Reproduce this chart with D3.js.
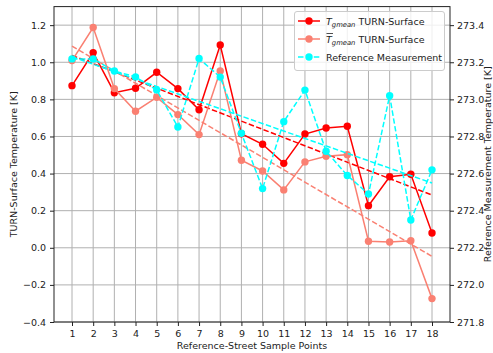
<!DOCTYPE html>
<html>
<head>
<meta charset="utf-8">
<script src="https://cdn.jsdelivr.net/npm/d3@7"></script>
<style>
  html, body { margin: 0; padding: 0; background: #fff; }
  svg { display: block; font-family: "DejaVu Sans", sans-serif; }
</style>
</head>
<body>
<div id="chart"></div>
<script>
// sample points along the reference street
var points = [1, 2, 3, 4, 5, 6, 7, 8, 9, 10, 11, 12, 13, 14, 15, 16, 17, 18];
// T_gmean TURN-Surface [K] (left axis)
var tGmean = [0.874, 1.052, 0.836, 0.860, 0.946, 0.858, 0.744, 1.093, 0.615,
              0.558, 0.455, 0.613, 0.646, 0.655, 0.227, 0.383, 0.396, 0.080];
// mean T_gmean TURN-Surface [K] (left axis)
var tGmeanBar = [1.009, 1.187, 0.858, 0.736, 0.811, 0.718, 0.610, 0.953, 0.472,
                 0.414, 0.312, 0.463, 0.493, 0.502, 0.035, 0.031, 0.038, -0.274];
// reference measurement [K] (right axis)
var refMeas = [273.218, 273.218, 273.153, 273.121, 273.051, 272.851, 273.220, 273.120, 272.817,
               272.519, 272.880, 273.050, 272.720, 272.590, 272.490, 273.020, 272.350, 272.620];
var leftTicks = [-0.4, -0.2, 0.0, 0.2, 0.4, 0.6, 0.8, 1.0, 1.2];
var rightTicks = [271.8, 272.0, 272.2, 272.4, 272.6, 272.8, 273.0, 273.2, 273.4];

var width = 493, height = 353;
var padL = 54, padR = 450, padT = 6.6, padB = 322;
var fs = 9.5;

var svg = d3.select('#chart').append('svg')
    .attr('width', width)
    .attr('height', height);

var x = d3.scaleLinear().domain([0.15, 18.85]).range([padL, padR]);
var y = d3.scaleLinear().domain([-0.4, 1.3]).range([padB, padT]);
var y2 = d3.scaleLinear().domain([271.8, 273.5]).range([padB, padT]);

// grid
svg.append('g').selectAll('line').data(points).enter().append('line')
    .attr('x1', function (d) { return x(d); }).attr('x2', function (d) { return x(d); })
    .attr('y1', padT).attr('y2', padB)
    .attr('stroke', '#b0b0b0').attr('stroke-width', 1);
svg.append('g').selectAll('line').data(leftTicks).enter().append('line')
    .attr('x1', padL).attr('x2', padR)
    .attr('y1', function (d) { return y(d); }).attr('y2', function (d) { return y(d); })
    .attr('stroke', '#b0b0b0').attr('stroke-width', 1);

// least squares trend
function fit(vals) {
    var mx = d3.mean(points), my = d3.mean(vals);
    var sxy = d3.sum(points, function (p, i) { return (p - mx) * (vals[i] - my); });
    var sxx = d3.sum(points, function (p) { return (p - mx) * (p - mx); });
    var b = sxy / sxx, a = my - b * mx;
    return [[points[0], a + b * points[0]], [points[points.length - 1], a + b * points[points.length - 1]]];
}

function drawSeries(vals, ys, color, dash) {
    var line = d3.line()
        .x(function (d, i) { return x(points[i]); })
        .y(function (d) { return ys(d); });
    svg.append('path').datum(vals)
        .attr('d', line)
        .attr('fill', 'none')
        .attr('stroke', color)
        .attr('stroke-width', 1.5)
        .attr('stroke-dasharray', dash ? '5.5,2.4' : null);
    svg.append('g').selectAll('circle').data(vals).enter().append('circle')
        .attr('cx', function (d, i) { return x(points[i]); })
        .attr('cy', function (d) { return ys(d); })
        .attr('r', 3.7)
        .attr('fill', color);
    var t = fit(vals);
    svg.append('path').datum(t)
        .attr('d', d3.line().x(function (d) { return x(d[0]); }).y(function (d) { return ys(d[1]); }))
        .attr('fill', 'none')
        .attr('stroke', color)
        .attr('stroke-width', 1.5)
        .attr('stroke-dasharray', '5.5,2.4');
}

drawSeries(tGmean, y, '#ff0000', false);
drawSeries(tGmeanBar, y, '#fa8072', false);
drawSeries(refMeas, y2, '#00ffff', true);

// frame
svg.append('rect')
    .attr('x', padL).attr('y', padT)
    .attr('width', padR - padL).attr('height', padB - padT)
    .attr('fill', 'none').attr('stroke', '#222').attr('stroke-width', 1);

// axes
var xAxis = svg.append('g').attr('transform', 'translate(0,' + padB + ')')
    .call(d3.axisBottom(x).tickValues(points).tickFormat(d3.format('d')).tickSize(4).tickPadding(4));
var yAxis = svg.append('g').attr('transform', 'translate(' + padL + ',0)')
    .call(d3.axisLeft(y).tickValues(leftTicks).tickFormat(function (d) { return d3.format('.1f')(d).replace('-', '\u2212'); }).tickSize(4).tickPadding(4));
var yAxis2 = svg.append('g').attr('transform', 'translate(' + padR + ',0)')
    .call(d3.axisRight(y2).tickValues(rightTicks).tickFormat(d3.format('.1f')).tickSize(4).tickPadding(3));
[xAxis, yAxis, yAxis2].forEach(function (g) {
    g.select('.domain').remove();
    g.selectAll('text').attr('font-size', fs).attr('fill', '#222').attr('font-family', '"DejaVu Sans", sans-serif');
    g.selectAll('line').attr('stroke', '#222');
});

// axis labels
svg.append('text')
    .attr('x', (padL + padR) / 2).attr('y', 349)
    .attr('text-anchor', 'middle').attr('font-size', fs).attr('fill', '#222')
    .text('Reference-Street Sample Points');
svg.append('text')
    .attr('transform', 'translate(17,' + ((padT + padB) / 2) + ') rotate(-90)')
    .attr('text-anchor', 'middle').attr('font-size', fs).attr('fill', '#222')
    .text('TURN-Surface Temperature [K]');
svg.append('text')
    .attr('transform', 'translate(490.5,' + ((padT + padB) / 2) + ') rotate(-90)')
    .attr('text-anchor', 'middle').attr('font-size', fs).attr('fill', '#222')
    .text('Reference Measurement Temperature [K]');

// legend
var legendItems = [
    { color: '#ff0000', dash: false, bar: false, label: ' TURN-Surface' },
    { color: '#fa8072', dash: false, bar: true, label: ' TURN-Surface' },
    { color: '#00ffff', dash: true, bar: false, label: 'Reference Measurement' }
];
var lg = svg.append('g');
lg.append('rect')
    .attr('x', 294.5).attr('y', 11.5).attr('width', 150).attr('height', 59).attr('rx', 2.5)
    .attr('fill', 'rgba(255,255,255,0.8)').attr('stroke', '#cccccc').attr('stroke-width', 1);
legendItems.forEach(function (it, i) {
    var cy = 21 + i * 18;
    lg.append('line').attr('x1', 298).attr('x2', 320).attr('y1', cy).attr('y2', cy)
        .attr('stroke', it.color).attr('stroke-width', 1.5)
        .attr('stroke-dasharray', it.dash ? '5.5,2.4' : null);
    lg.append('circle').attr('cx', 309).attr('cy', cy).attr('r', 3.7).attr('fill', it.color);
    var t = lg.append('text').attr('x', 326).attr('y', cy + 3.5).attr('font-size', fs).attr('fill', '#222');
    if (it.label === 'Reference Measurement') {
        t.text(it.label);
    } else {
        t.append('tspan').attr('font-style', 'italic').text('T');
        t.append('tspan').attr('font-style', 'italic').attr('font-size', 6.8).attr('dy', 2).text('gmean');
        t.append('tspan').attr('dy', -2).text(it.label);
        if (it.bar) {
            lg.append('line').attr('x1', 326.5).attr('x2', 333).attr('y1', cy - 5.5).attr('y2', cy - 5.5)
                .attr('stroke', '#222').attr('stroke-width', 0.8);
        }
    }
});
</script>
</body>
</html>
